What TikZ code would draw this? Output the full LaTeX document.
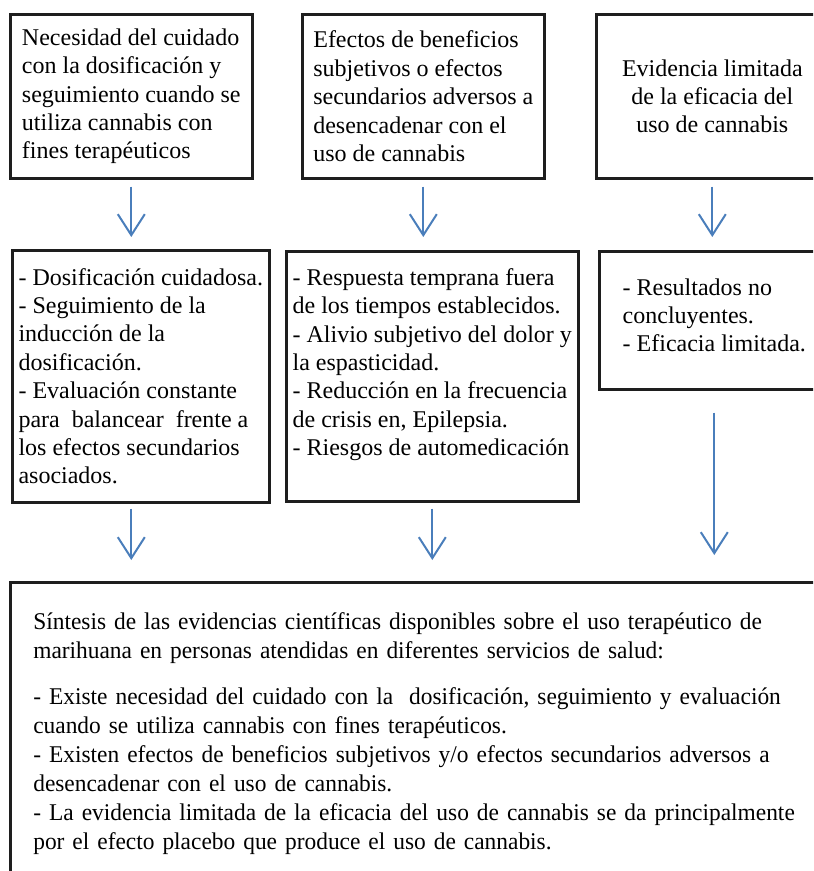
\documentclass[tikz,border=0pt]{standalone}
\usepackage{fontspec}
\setmainfont{Liberation Serif}
\newfontfamily\estrecha{Liberation Serif}[FakeStretch=0.975]
\usetikzlibrary{positioning, arrows.meta}

\definecolor{azul}{HTML}{4A7EBB}
\definecolor{borde}{HTML}{1E1E1E}

\tikzset{
  caja/.style={draw=borde, line width=1.3pt, anchor=north west, align=left,
    inner sep=0pt, font=\fontsize{12pt}{14.2pt}\selectfont},
  flecha/.style={draw=azul, line width=1pt, -{Straight Barb[length=10.5pt, width=13.5pt]}}
}

\begin{document}
\begin{tikzpicture}[x=0.5pt, y=-0.5pt]
\clip (0,0) rectangle (813,871);

\node[caja, minimum width=121pt, minimum height=82pt] (b1) at (9,13)
  {Necesidad del cuidado\\con la dosificación y\\seguimiento cuando se\\utiliza cannabis con\\fines terapéuticos};
\node[caja, minimum width=121pt, minimum height=82pt] (b2) at (301,13)
  {Efectos de beneficios\\subjetivos o efectos\\secundarios adversos a\\desencadenar con el\\uso de cannabis};
\node[caja, align=center, minimum width=116pt, minimum height=82pt] (b3) at (595,13)
  {Evidencia limitada\\de la eficacia del\\uso de cannabis};

\node[caja, minimum width=128.5pt, minimum height=126pt] (b4) at (11,249)
  {- Dosificación cuidadosa.\\- Seguimiento de la\\inducción de la\\dosificación.\\- Evaluación constante\\para~ balancear~ frente a\\los efectos secundarios\\asociados.};
\node[caja, minimum width=146pt, minimum height=125pt] (b5) at (285,250)
  {- Respuesta temprana fuera\\de los tiempos establecidos.\\- Alivio subjetivo del dolor y\\la espasticidad.\\- Reducción en la frecuencia\\de crisis en, Epilepsia.\\- Riesgos de automedicación\\\mbox{}};
\node[caja, minimum width=115pt, minimum height=69pt] (b6) at (598,250)
  {- Resultados no\\concluyentes.\\- Eficacia limitada.\\[-9pt]\mbox{}};

\node[caja, text width=395pt, inner xsep=11.5pt, inner ysep=15pt,
  font=\estrecha\fontsize{12pt}{14.5pt}\selectfont] (fin) at (9,581)
  {Síntesis de las evidencias científicas disponibles sobre el uso terapéutico de\\
   marihuana en personas atendidas en diferentes servicios de salud:\\[8.5pt]
   - Existe necesidad del cuidado con la~ dosificación, seguimiento y evaluación\\
   cuando se utiliza cannabis con fines terapéuticos.\\
   - Existen efectos de beneficios subjetivos y/o efectos secundarios adversos a\\
   desencadenar con el uso de cannabis.\\
   - La evidencia limitada de la eficacia del uso de cannabis se da principalmente\\
   por el efecto placebo que produce el uso de cannabis.\\[6pt]\mbox{}};

\path
  (b1.south) edge[flecha, shorten <=3.5pt, shorten >=6pt] (b1.south |- b4.north)
  (b2.south) edge[flecha, shorten <=3.5pt, shorten >=6.5pt] (b2.south |- b5.north)
  (b3.south) edge[flecha, shorten <=3.5pt, shorten >=6.5pt] (b3.south |- b6.north)
  (b1.south |- b4.south) edge[flecha, shorten <=2.5pt, shorten >=10.5pt] (b1.south |- fin.north)
  (b5.south) edge[flecha, shorten <=3pt, shorten >=10.5pt] (b5.south |- fin.north)
  (b6.south) edge[flecha, shorten <=11pt, shorten >=13pt] (b6.south |- fin.north);
\end{tikzpicture}
\end{document}
